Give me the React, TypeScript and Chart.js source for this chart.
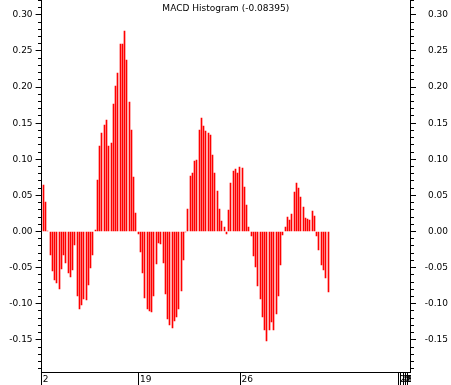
import React, { useEffect, useRef } from 'react';
import { Chart, registerables } from 'chart.js';

Chart.register(...registerables);

const TITLE = 'MACD Histogram (-0.08395)';

const MACD_HIST = [
  0.064, 0.041, 0.0, -0.033, -0.055, -0.067, -0.072, -0.079, -0.052, -0.033,
  -0.044, -0.057, -0.063, -0.053, -0.019, -0.09, -0.108, -0.102, -0.094, -0.095,
  -0.074, -0.051, -0.033, 0.002, 0.071, 0.118, 0.136, 0.148, 0.154, 0.118,
  0.122, 0.177, 0.201, 0.22, 0.26, 0.259, 0.278, 0.237, 0.179, 0.14,
  0.076, 0.025, -0.004, -0.028, -0.058, -0.092, -0.107, -0.11, -0.111, -0.09,
  -0.045, -0.016, -0.017, -0.043, -0.086, -0.121, -0.13, -0.133, -0.124, -0.118,
  -0.108, -0.082, -0.039, -0.001, 0.031, 0.077, 0.081, 0.097, 0.099, 0.141,
  0.157, 0.146, 0.139, 0.136, 0.134, 0.106, 0.081, 0.056, 0.031, 0.015,
  0.006, -0.003, 0.03, 0.067, 0.084, 0.087, 0.081, 0.089, 0.088, 0.062,
  0.037, 0.006, -0.006, -0.034, -0.049, -0.076, -0.093, -0.118, -0.137, -0.151,
  -0.137, -0.125, -0.137, -0.114, -0.09, -0.046, -0.005, 0.006, 0.02, 0.016,
  0.024, 0.055, 0.067, 0.06, 0.048, 0.034, 0.019, 0.017, 0.016, 0.028,
  0.021, -0.006, -0.025, -0.047, -0.054, -0.065, -0.08395,
];

const X_SLOTS = 163;
const X_TICK_POS = [0, 43, 88, 158, 159, 160, 161, 162];
const X_TICK_TEXT = ['2', '19', '26', '27', '28', '29', '30', '31'];

const Y_TICKS = [-0.15, -0.1, -0.05, 0, 0.05, 0.1, 0.15, 0.2, 0.25, 0.3];
const Y_MIN = -0.1946;
const Y_MAX = 0.3206;

const BAR_COLOR = '#ff0000';
const FONT = { family: '"DejaVu Sans"', size: 9 };

const X_LABELS: string[] = Array.from({ length: X_SLOTS }, () => '');
X_TICK_POS.forEach((p, i) => {
  X_LABELS[p] = X_TICK_TEXT[i];
});

const snapBars = {
  id: 'snapBars',
  afterDatasetsUpdate(chart: any) {
    const meta = chart.getDatasetMeta(0);
    meta.data.forEach((el: any) => {
      el.x = Math.round(el.x) + 0.5;
      el.y = Math.round(el.y);
      el.base = Math.round(el.base);
    });
  },
};

const decorations = {
  id: 'decorations',
  afterDraw(chart: any) {
    const { ctx, chartArea, width, height } = chart;
    ctx.save();
    // x-axis labels are clipped at the plot's right edge
    ctx.fillStyle = '#fff';
    ctx.fillRect(Math.round(chartArea.right) + 1, chartArea.bottom + 1, width, height);
    ctx.strokeStyle = '#000';
    ctx.lineWidth = 1;
    const ax = Math.round(chartArea.left - 0.5);
    const ar = Math.round(chartArea.right - 0.5) + 1;
    ['y', 'y2'].forEach((id) => {
      const s = chart.scales[id];
      const lo = Math.ceil(s.min * 100);
      const hi = Math.floor(s.max * 100);
      ctx.beginPath();
      for (let k = lo; k <= hi; k++) {
        const py = Math.round(s.getPixelForValue(k / 100) - 0.5) + 0.5;
        if (id === 'y') {
          ctx.moveTo(ax - 3, py);
          ctx.lineTo(ax, py);
        } else {
          ctx.moveTo(ar, py);
          ctx.lineTo(ar + 3, py);
        }
      }
      ctx.stroke();
    });
    ctx.fillStyle = '#000';
    ctx.font = '9px "DejaVu Sans"';
    ctx.textAlign = 'center';
    ctx.textBaseline = 'middle';
    ctx.fillText(TITLE, (chartArea.left + chartArea.right) / 2, chartArea.top + 9);
    ctx.restore();
  },
};

const zeroPad = (s: any) => {
  s.paddingLeft = 0;
  s.paddingRight = 0;
  s.paddingTop = 0;
  s.paddingBottom = 0;
};

export default function App() {
  const ref = useRef<HTMLCanvasElement | null>(null);

  useEffect(() => {
    document.body.style.margin = '0';
    if (!ref.current) return;
    const yAxisCommon = (position: 'left' | 'right') => ({
      type: 'linear' as const,
      position,
      min: Y_MIN,
      max: Y_MAX,
      afterBuildTicks: (s: any) => {
        s.ticks = Y_TICKS.map((v) => ({ value: v }));
      },
      ticks: {
        callback: (v: any) => Number(v).toFixed(2),
        font: FONT,
        color: '#000',
        padding: 3,
        crossAlign: position === 'left' ? ('near' as const) : ('far' as const),
      },
      grid: {
        drawOnChartArea: false,
        drawTicks: true,
        tickLength: 6,
        tickColor: '#000',
        color: '#000',
      },
      border: { display: true, color: '#000', width: 1 },
      afterFit: (s: any) => {
        s.width = position === 'left' ? 41.6 : 38;
        zeroPad(s);
      },
    });

    const chart = new Chart(ref.current, {
      type: 'bar',
      data: {
        labels: X_LABELS,
        datasets: [
          {
            data: MACD_HIST,
            backgroundColor: BAR_COLOR,
            borderWidth: 0,
            barThickness: 1,
            xAxisID: 'x',
            yAxisID: 'y',
          },
        ],
      },
      options: {
        animation: false,
        responsive: false,
        devicePixelRatio: 1,
        events: [],
        layout: { padding: { left: 0, right: 3, top: 0, bottom: 0 } },
        plugins: {
          legend: { display: false },
          tooltip: { enabled: false },
          title: { display: false },
        },
        scales: {
          x: {
            type: 'category',
            offset: true,
            grid: {
              drawOnChartArea: false,
              offset: true,
              tickLength: 13,
              tickColor: (ctx: any) => (X_LABELS[ctx.index] ? '#000' : 'rgba(0,0,0,0)'),
            },
            border: { display: true, color: '#000', width: 1 },
            ticks: {
              autoSkip: false,
              maxRotation: 0,
              minRotation: 0,
              align: 'start',
              padding: -11,
              font: FONT,
              color: '#000',
            },
            afterFit: (s: any) => {
              s.height = 13;
              zeroPad(s);
            },
          },
          y: yAxisCommon('left'),
          y2: yAxisCommon('right'),
        },
      },
      plugins: [snapBars, decorations],
    } as any);
    return () => chart.destroy();
  }, []);

  return (
    <div style={{ width: 451, height: 385 }}>
      <canvas ref={ref} width={451} height={385} style={{ display: 'block' }} />
    </div>
  );
}
